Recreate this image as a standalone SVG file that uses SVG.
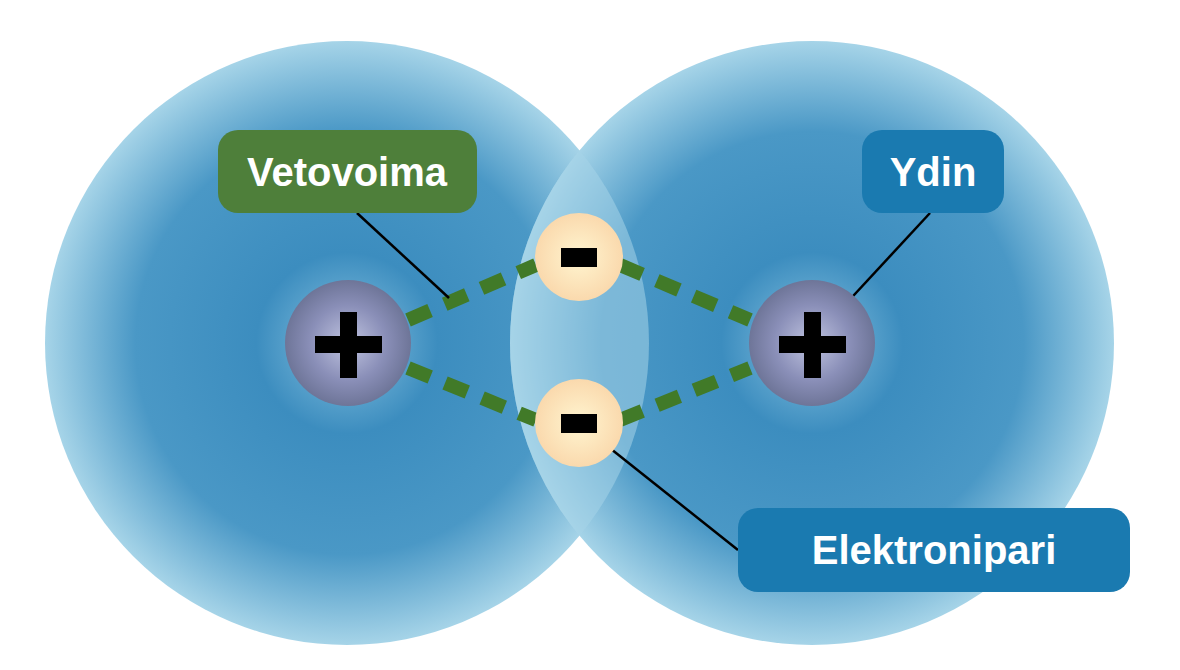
<svg xmlns="http://www.w3.org/2000/svg" width="1180" height="670" viewBox="0 0 1180 670">
<style>
.lbl{font-family:"Liberation Sans",Arial,sans-serif;font-weight:bold;font-size:40px;fill:#fff;text-anchor:middle}
.bond{stroke:#417a28;stroke-width:14;stroke-dasharray:24 16;fill:none}
.lead{stroke:#000;stroke-width:2.5}
</style>
<defs>
<radialGradient id="cloud" cx="0.5" cy="0.5" r="0.5">
<stop offset="0" stop-color="#3a8ec0"/>
<stop offset="0.18" stop-color="#5aa2cc"/>
<stop offset="0.3" stop-color="#3c8dbf"/>
<stop offset="0.7" stop-color="#4a98c6"/>
<stop offset="1" stop-color="#a6d4e8"/>
</radialGradient>
<radialGradient id="nuc" cx="0.5" cy="0.5" r="0.5">
<stop offset="0" stop-color="#c0c4e0"/>
<stop offset="0.6" stop-color="#8a8fb8"/>
<stop offset="1" stop-color="#6e7598"/>
</radialGradient>
<radialGradient id="ele" cx="0.5" cy="0.5" r="0.5">
<stop offset="0" stop-color="#fff5d0"/>
<stop offset="1" stop-color="#fad9ad"/>
</radialGradient>
<clipPath id="cl"><circle cx="347" cy="343" r="302"/></clipPath>
</defs>
<rect width="1180" height="670" fill="#fff"/>
<g id="cloud-left"><circle cx="347" cy="343" r="302" fill="url(#cloud)"/></g>
<g id="cloud-right"><circle cx="812" cy="343" r="302" fill="url(#cloud)"/></g>
<g id="overlap"><circle cx="812" cy="343" r="302" fill="#a6d4e8" opacity="0.55" clip-path="url(#cl)"/></g>
<g id="connectors">
<path class="bond" d="M408,320 L536,265"/>
<path class="bond" d="M408,368 L536,420"/>
<path class="bond" d="M620,265 L750,320"/>
<path class="bond" d="M620,420 L750,368"/>
<line class="lead" x1="357" y1="213" x2="449" y2="298"/>
<line class="lead" x1="930" y1="213" x2="842" y2="308"/>
<line class="lead" x1="606" y1="445" x2="738" y2="550"/>
</g>
<g id="nucleus-left"><circle cx="348" cy="343" r="63" fill="url(#nuc)"/><rect x="315" y="336" width="67" height="17"/><rect x="340" y="312" width="17" height="66"/></g>
<g id="nucleus-right"><circle cx="812" cy="343" r="63" fill="url(#nuc)"/><rect x="779" y="336" width="67" height="17"/><rect x="804" y="312" width="17" height="66"/></g>
<g id="electron-top"><circle cx="579" cy="257" r="44" fill="url(#ele)"/><rect x="561" y="248" width="36" height="19"/></g>
<g id="electron-bottom"><circle cx="579" cy="423" r="44" fill="url(#ele)"/><rect x="561" y="414" width="36" height="19"/></g>
<g id="label-vetovoima"><rect x="218" y="130" width="259" height="83" rx="20" fill="#4e7f3a"/><text class="lbl" x="347" y="186">Vetovoima</text></g>
<g id="label-ydin"><rect x="862" y="130" width="142" height="83" rx="20" fill="#1a7ab0"/><text class="lbl" x="933" y="186">Ydin</text></g>
<g id="label-elektronipari"><rect x="738" y="508" width="392" height="84" rx="20" fill="#1a7ab0"/><text class="lbl" x="934" y="564">Elektronipari</text></g>
</svg>
